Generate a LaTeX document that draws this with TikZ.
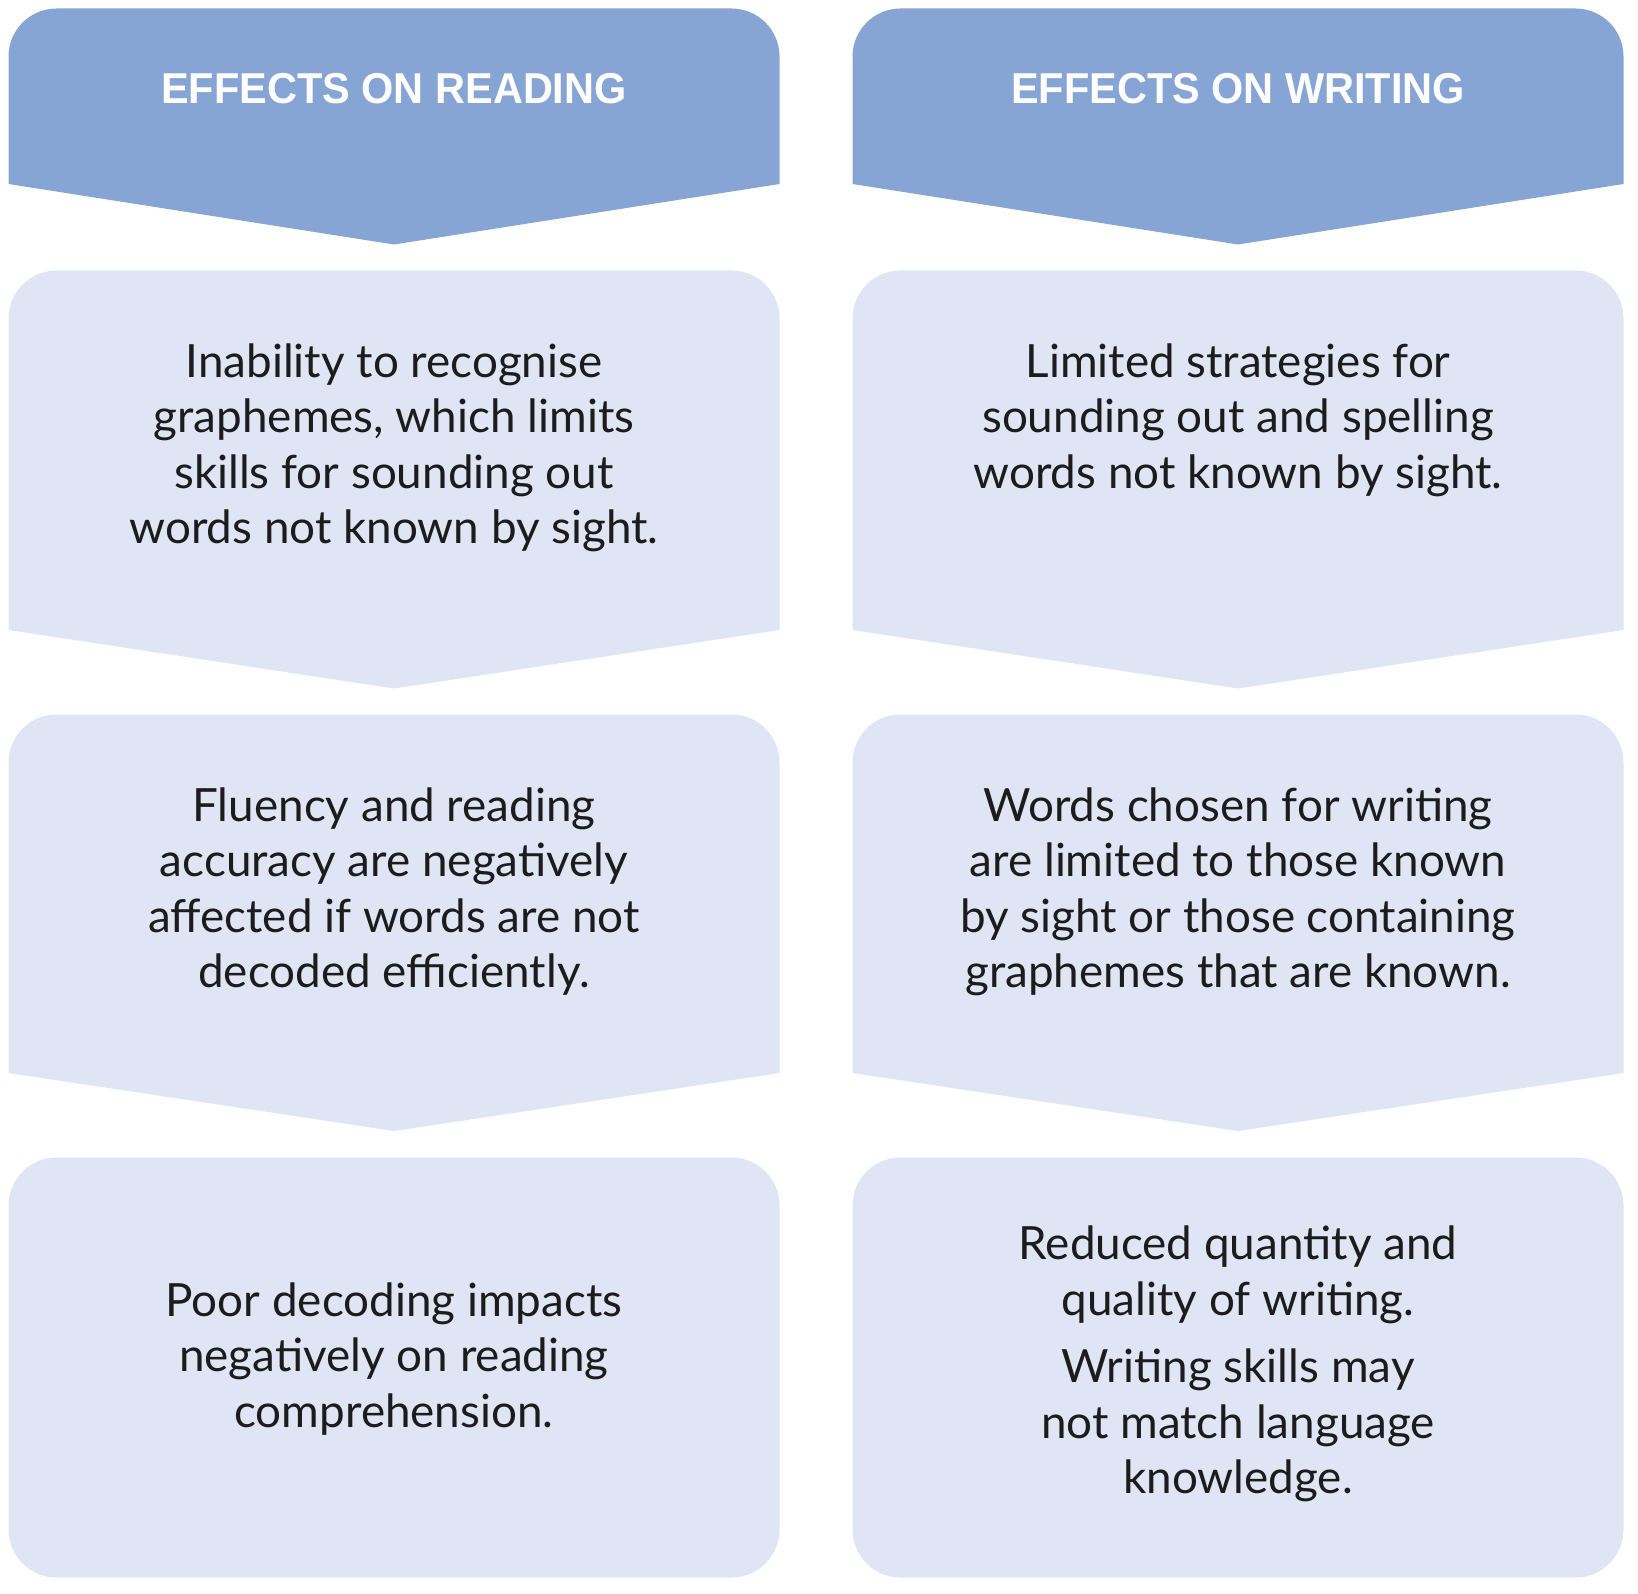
\documentclass[tikz,border=0pt]{standalone}
\usepackage{fontspec}
\setmainfont{Lato}
\newfontfamily\headfont[FakeStretch=0.96]{Liberation Sans}
\definecolor{headblue}{HTML}{87A5D4}
\definecolor{lightblue}{HTML}{DFE5F4}
\definecolor{ink}{HTML}{1C1C1C}
\newcommand\chevronbox[6]{% style, x0, x1, top, sidebottom, tip
  \begin{scope}
    \clip (#2,#4) -- (#3,#4) -- (#3,#5) -- ({(#2+#3)/2},#6) -- (#2,#5) -- cycle;
    \fill[#1,rounded corners=24pt] (#2,#4) rectangle (#3,#6);
  \end{scope}}
\newcommand\textlines[1]{\begin{tabular}[t]{@{}c@{}}#1\end{tabular}}
\tikzset{
  headfill/.style={fill=headblue},
  bodyfill/.style={fill=lightblue},
  bodytext/.style={anchor=base, inner sep=0pt, text=ink,
    font=\fontsize{22.9}{27.75}\selectfont},
  headtext/.style={anchor=base, inner sep=0pt, text=white,
    font=\headfont\bfseries\fontsize{21.6}{26}\selectfont},
}
\begin{document}
\begin{tikzpicture}[x=0.5pt,y=-0.5pt]
\useasboundingbox (0,0) rectangle (1638,1594);
% left column
\chevronbox{headfill}{8.5}{779.5}{8.5}{184}{244.5}
\chevronbox{bodyfill}{8.5}{779.5}{270.5}{630}{688.5}
\chevronbox{bodyfill}{8.5}{779.5}{714.5}{1073}{1131}
\fill[bodyfill,rounded corners=24pt] (8.5,1157.5) rectangle (779.5,1577.5);
% right column
\chevronbox{headfill}{852.5}{1623.5}{8.5}{184}{244.5}
\chevronbox{bodyfill}{852.5}{1623.5}{270.5}{630}{688.5}
\chevronbox{bodyfill}{852.5}{1623.5}{714.5}{1073}{1131}
\fill[bodyfill,rounded corners=24pt] (852.5,1157.5) rectangle (1623.5,1577.5);
% headers
\node[headtext] (hL) at (394,104) {EFFECTS ON READING};
\node[headtext] (hR) at (1238,104) {EFFECTS ON WRITING};
% texts
\node[bodytext] (r1) at (394,377) {\textlines{Inability to recognise\\ graphemes, which limits\\ skills for sounding out\\ words not known by sight.}};
\node[bodytext] (w1) at (1238,377) {\textlines{Limited strategies for\\ sounding out and spelling\\ words not known by sight.}};
\node[bodytext] (r2) at (394,821) {\textlines{Fluency and reading\\ accuracy are negatively\\ affected if words are not\\ decoded efficiently.}};
\node[bodytext] (w2) at (1238,821) {\textlines{Words chosen for writing\\ are limited to those known\\ by sight or those containing\\ graphemes that are known.}};
\node[bodytext] (r3) at (394,1316) {\textlines{Poor decoding impacts\\ negatively on reading\\ comprehension.}};
\node[bodytext] (w3) at (1238,1259.5) {\textlines{Reduced quantity and\\ quality of writing.\\[6pt] Writing skills may\\ not match language\\ knowledge.}};
\end{tikzpicture}
\end{document}
